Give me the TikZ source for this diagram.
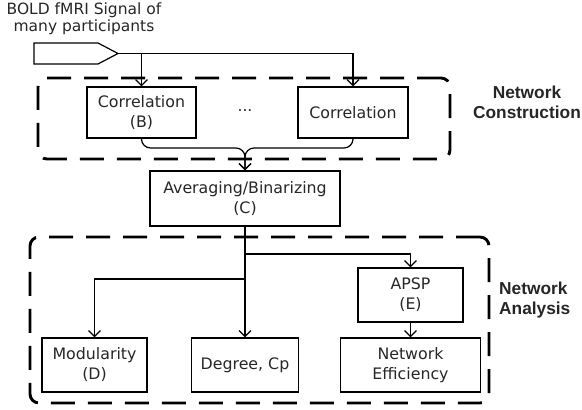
\documentclass[tikz,border=0pt]{standalone}
\usepackage{fontspec}
\setmainfont{DejaVu Sans}
\newfontfamily\labfont{Liberation Sans}
\usetikzlibrary{arrows.meta}
\begin{document}
\begin{tikzpicture}[x=1pt,y=-1pt,
  box/.style={draw, line width=1.2pt, inner sep=0pt, align=center,
    font=\fontsize{15.8}{20}\selectfont, text=black!85},
  conn/.style={line width=1.2pt},
  arr/.style={conn, -{Straight Barb[length=6pt,width=12pt]}},
  dbox/.style={draw, line width=2.9pt, dash pattern=on 24pt off 13pt,
    rounded corners=9pt, inner sep=0pt},
  lab/.style={font=\labfont\bfseries\fontsize{17.3}{20}\selectfont, text=black!85, inner sep=0pt},
  plain/.style={font=\fontsize{15.5}{17}\selectfont, text=black!85, inner sep=0pt, align=center}
]
\useasboundingbox (0,0) rectangle (582,410);

% dashed group boxes
\node[dbox, minimum width=412pt, minimum height=81pt] (nc) at (244,118.5) {};
\node[dbox, minimum width=459pt, minimum height=166pt] (na) at (259.5,320) {};

% signal
\node[plain] (sigtext) at (84,19) {BOLD fMRI Signal of\\many participants};
\coordinate (sA) at (34,43);
\coordinate (sB) at (98,43);
\coordinate (tip) at (118,53.5);
\coordinate (sC) at (98,64);
\coordinate (sD) at (34,64);
\draw[conn, line join=miter] (sA) -- (sB) -- (tip) -- (sC) -- (sD) -- cycle;

% boxes
\node[box, minimum width=109pt, minimum height=51pt] (c1) at (141.5,112.5) {Correlation\\(B)};
\node[box, minimum width=110pt, minimum height=51pt] (c2) at (353,112.5) {Correlation};
\node[plain] (dots) at (245,111) {...};
\node[box, minimum width=190pt, minimum height=55pt] (avg) at (245,198.5) {Averaging/Binarizing\\(C)};
\node[box, minimum width=105pt, minimum height=54pt] (mod) at (94.5,365) {Modularity\\(D)};
\node[box, minimum width=107pt, minimum height=54pt] (deg) at (245,365) {Degree, Cp};
\node[box, minimum width=105pt, minimum height=54pt] (apsp) at (410.5,295) {APSP\\(E)};
\node[box, minimum width=140pt, minimum height=54pt] (eff) at (410.5,365) {Network\\Efficiency};

% labels
\node[lab, align=center] (lnc) at (527,102) {Network\\Construction};
\node[lab, align=left, anchor=west] (lna) at (499,300) {Network\\Analysis};

% connectors
\coordinate (j1) at (c1.north |- tip);
\draw[arr] (tip) -| (c2.north);
\draw[arr] (j1) -- (c1.north);
\coordinate (mj) at (245,148);
\draw[arr, rounded corners=9pt] (c1.south) |- (mj) -- (avg.north);
\draw[arr, rounded corners=9pt] (c2.south) |- (mj) -- (avg.north);
\draw[arr] (avg.south) -- (deg.north);
\coordinate (b1) at (245,254);
\coordinate (b2) at (245,279);
\draw[arr] (b1) -| (apsp.north);
\draw[arr] (b2) -| (mod.north);
\draw[arr] (apsp.south) -- (eff.north);
\end{tikzpicture}
\end{document}
